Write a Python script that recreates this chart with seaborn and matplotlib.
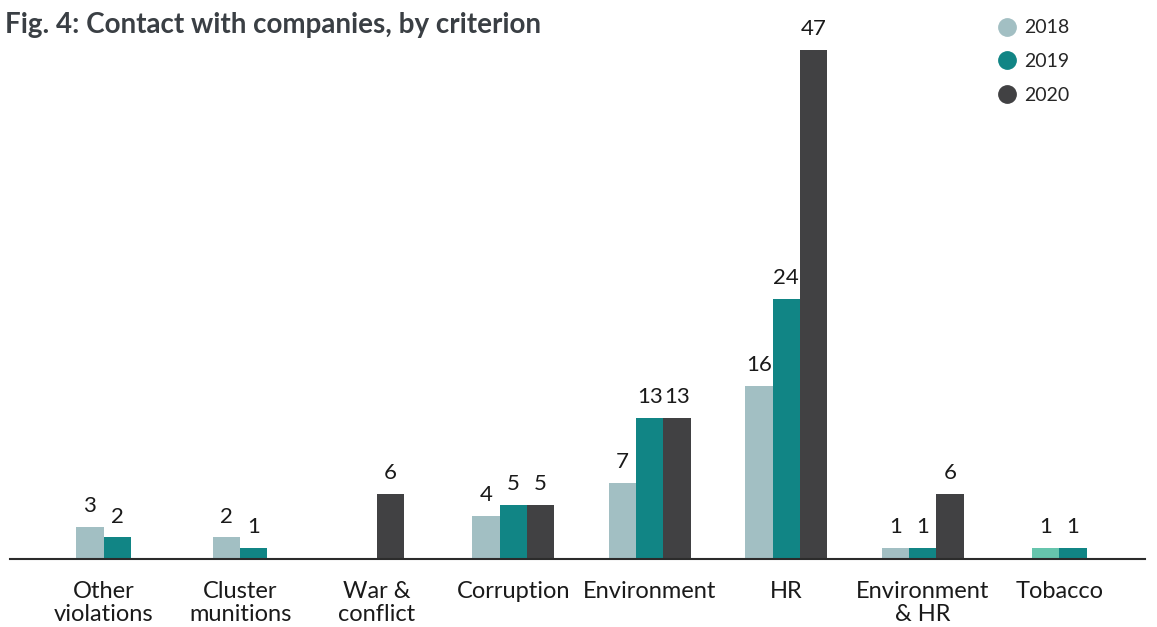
import matplotlib
matplotlib.use("Agg")
import matplotlib.pyplot as plt
from matplotlib.lines import Line2D
import seaborn as sns
import pandas as pd

# Contacts with companies per exclusion criterion and year
categories = ["Other\nviolations", "Cluster\nmunitions", "War &\nconflict", "Corruption",
              "Environment", "HR", "Environment\n& HR", "Tobacco"]
years = ["2018", "2019", "2020"]
values_2018 = [3, 2, 0, 4, 7, 16, 1, 1]
values_2019 = [2, 1, None, 5, 13, 24, 1, 1]
values_2020 = [None, None, 6, 5, 13, 47, 6, None]

colors = {"2018": "#a2bfc3", "2019": "#118585", "2020": "#414143"}
tobacco_2018_color = "#66c5ad"

rows = []
for yr, vals in zip(years, [values_2018, values_2019, values_2020]):
    for cat, v in zip(categories, vals):
        if v is not None:
            rows.append({"criterion": cat, "year": yr, "count": v})
df = pd.DataFrame(rows)

sns.set_theme(style="white")
plt.rcParams["font.family"] = ["Lato", "DejaVu Sans"]

W, H = 1157, 627
fig = plt.figure(figsize=(W / 100, H / 100), dpi=100)
ax = fig.add_axes([10 / W, 1 - 559 / H, (1145 - 10) / W, (559 - 50) / H])

sns.barplot(data=df, x="criterion", y="count", hue="year", order=categories,
            hue_order=years, palette=colors, width=0.6, dodge=True,
            saturation=1, errorbar=None, legend=False, ax=ax, linewidth=0)

# Pack the bars of each group side by side, centred on the category
bar_patches = [p for p in ax.patches if p.get_width() > 0]
groups = {}
for p in bar_patches:
    cx = p.get_x() + p.get_width() / 2
    groups.setdefault(int(round(cx)), []).append(p)

for idx, plist in groups.items():
    plist.sort(key=lambda p: p.get_x())
    w = plist[0].get_width()
    start = idx - w * len(plist) / 2
    for k, p in enumerate(plist):
        p.set_x(start + k * w)

# Label each bar with its value and recolour the tobacco 2018 bar
for idx, plist in groups.items():
    for p in plist:
        cx = p.get_x() + p.get_width() / 2
        h = p.get_height()
        fc = matplotlib.colors.to_hex(p.get_facecolor())
        if categories[idx] == "Tobacco" and fc == colors["2018"]:
            p.set_facecolor(tobacco_2018_color)
        if h > 0:
            ax.text(cx, h + 1.0, f"{int(h)}", ha="center", va="bottom",
                    fontsize=16, color="#1a1a1a")

ax.set_xlim(-0.685, 7.627)
ax.set_ylim(0, 47)
ax.set_xlabel("")
ax.set_ylabel("")
ax.set_yticks([])
ax.tick_params(axis="x", length=0, pad=16, labelsize=17, labelcolor="#1a1a1a")
for lbl in ax.get_xticklabels():
    lbl.set_linespacing(1.1)
for s in ["top", "right", "left"]:
    ax.spines[s].set_visible(False)
ax.spines["bottom"].set_color("#2b2b2b")
ax.spines["bottom"].set_linewidth(1.5)
ax.patch.set_alpha(0)

fig.text(5 / W, 1 - 25 / H, "Fig. 4: Contact with companies, by criterion",
         ha="left", va="center", fontsize=20, fontweight="bold", color="#3a3f44")

handles = [Line2D([0], [0], marker="o", linestyle="", markersize=12.5,
                  markerfacecolor=colors[y], markeredgecolor=colors[y], label=y)
           for y in years]
fig.legend(handles=handles, loc="upper left", bbox_to_anchor=(980 / W, 1 - 2 / H),
           frameon=False, fontsize=14, handletextpad=0.35, labelspacing=0.85,
           handlelength=1.0)

fig.savefig("out.png", dpi=100)
